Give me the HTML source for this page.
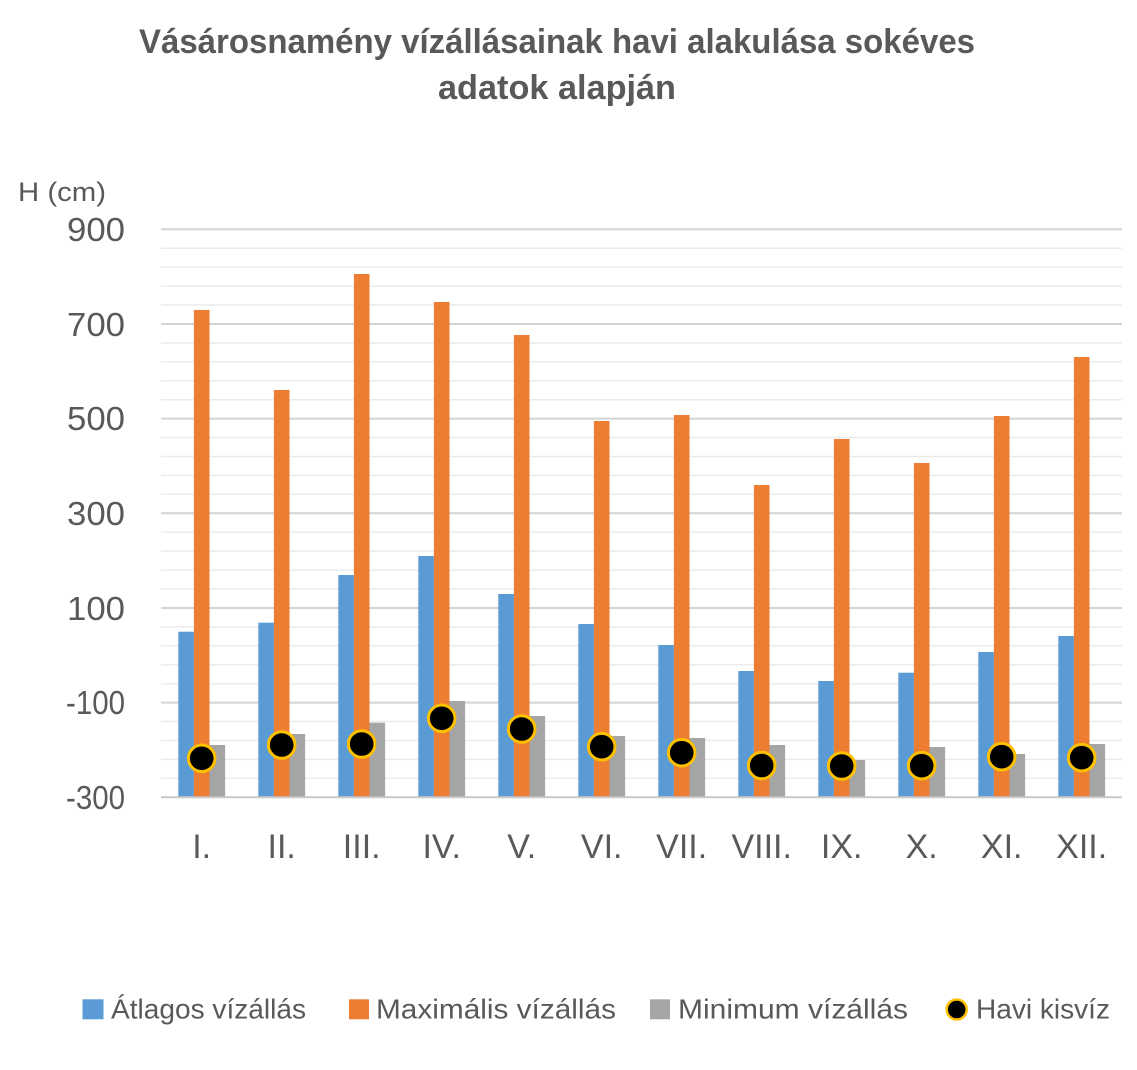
<!DOCTYPE html>
<html>
<head>
<meta charset="utf-8">
<style>
html,body{margin:0;padding:0;background:#fff;}
svg{display:block;}
text{font-family:"Liberation Sans",sans-serif;fill:#595959;}
</style>
</head>
<body>
<svg width="1137" height="1070" viewBox="0 0 1137 1070" xmlns="http://www.w3.org/2000/svg">
<rect width="1137" height="1070" fill="#fff"/>
<!-- Title -->
<text x="557" y="53" text-anchor="middle" font-size="34" font-weight="bold" textLength="836" lengthAdjust="spacingAndGlyphs">Vásárosnamény vízállásainak havi alakulása sokéves</text>
<text x="557" y="99" text-anchor="middle" font-size="34" font-weight="bold" textLength="238" lengthAdjust="spacingAndGlyphs">adatok alapján</text>
<!-- Axis title -->
<text x="18" y="201" font-size="27" textLength="88" lengthAdjust="spacingAndGlyphs">H (cm)</text>
<!-- Minor gridlines -->
<g stroke="#ebebeb" stroke-width="1.5">
<line x1="161" x2="1122" y1="248.2" y2="248.2"/>
<line x1="161" x2="1122" y1="267.1" y2="267.1"/>
<line x1="161" x2="1122" y1="286.1" y2="286.1"/>
<line x1="161" x2="1122" y1="305.0" y2="305.0"/>
<line x1="161" x2="1122" y1="342.9" y2="342.9"/>
<line x1="161" x2="1122" y1="361.8" y2="361.8"/>
<line x1="161" x2="1122" y1="380.7" y2="380.7"/>
<line x1="161" x2="1122" y1="399.7" y2="399.7"/>
<line x1="161" x2="1122" y1="437.5" y2="437.5"/>
<line x1="161" x2="1122" y1="456.5" y2="456.5"/>
<line x1="161" x2="1122" y1="475.4" y2="475.4"/>
<line x1="161" x2="1122" y1="494.3" y2="494.3"/>
<line x1="161" x2="1122" y1="532.2" y2="532.2"/>
<line x1="161" x2="1122" y1="551.1" y2="551.1"/>
<line x1="161" x2="1122" y1="570.1" y2="570.1"/>
<line x1="161" x2="1122" y1="589.0" y2="589.0"/>
<line x1="161" x2="1122" y1="626.9" y2="626.9"/>
<line x1="161" x2="1122" y1="645.8" y2="645.8"/>
<line x1="161" x2="1122" y1="664.7" y2="664.7"/>
<line x1="161" x2="1122" y1="683.7" y2="683.7"/>
<line x1="161" x2="1122" y1="721.5" y2="721.5"/>
<line x1="161" x2="1122" y1="740.5" y2="740.5"/>
<line x1="161" x2="1122" y1="759.4" y2="759.4"/>
<line x1="161" x2="1122" y1="778.3" y2="778.3"/>
</g>
<!-- Major gridlines -->
<g stroke="#d4d4d4" stroke-width="2">
<line x1="161" x2="1122" y1="229.3" y2="229.3"/>
<line x1="161" x2="1122" y1="324.0" y2="324.0"/>
<line x1="161" x2="1122" y1="418.6" y2="418.6"/>
<line x1="161" x2="1122" y1="513.3" y2="513.3"/>
<line x1="161" x2="1122" y1="608.0" y2="608.0"/>
<line x1="161" x2="1122" y1="702.6" y2="702.6"/>
</g>
<!-- Y labels -->
<g font-size="33">
<text x="67" y="241" textLength="58" lengthAdjust="spacingAndGlyphs">900</text>
<text x="67" y="336" textLength="58" lengthAdjust="spacingAndGlyphs">700</text>
<text x="67" y="430" textLength="58" lengthAdjust="spacingAndGlyphs">500</text>
<text x="67" y="525" textLength="58" lengthAdjust="spacingAndGlyphs">300</text>
<text x="67" y="620" textLength="58" lengthAdjust="spacingAndGlyphs">100</text>
<text x="66" y="714" textLength="59" lengthAdjust="spacingAndGlyphs">-100</text>
<text x="66" y="809" textLength="59" lengthAdjust="spacingAndGlyphs">-300</text>
</g>
<!-- Bars: blue -->
<g fill="#5B9BD5">
<rect x="178.3" width="15.6" y="631.7" height="165.6"/>
<rect x="258.3" width="15.6" y="622.7" height="174.6"/>
<rect x="338.3" width="15.6" y="575.0" height="222.3"/>
<rect x="418.3" width="15.6" y="556.0" height="241.3"/>
<rect x="498.3" width="15.6" y="594.0" height="203.3"/>
<rect x="578.3" width="15.6" y="624.0" height="173.3"/>
<rect x="658.3" width="15.6" y="645.0" height="152.3"/>
<rect x="738.3" width="15.6" y="671.0" height="126.3"/>
<rect x="818.3" width="15.6" y="681.0" height="116.3"/>
<rect x="898.3" width="15.6" y="672.7" height="124.6"/>
<rect x="978.3" width="15.6" y="652.0" height="145.3"/>
<rect x="1058.3" width="15.6" y="636.0" height="161.3"/>
</g>
<!-- Bars: orange -->
<g fill="#ED7D31">
<rect x="193.9" width="15.6" y="310" height="487.3"/>
<rect x="273.9" width="15.6" y="390" height="407.3"/>
<rect x="353.9" width="15.6" y="274" height="523.3"/>
<rect x="433.9" width="15.6" y="302" height="495.3"/>
<rect x="513.9" width="15.6" y="335" height="462.3"/>
<rect x="593.9" width="15.6" y="421" height="376.3"/>
<rect x="673.9" width="15.6" y="415" height="382.3"/>
<rect x="753.9" width="15.6" y="485" height="312.3"/>
<rect x="833.9" width="15.6" y="439" height="358.3"/>
<rect x="913.9" width="15.6" y="463" height="334.3"/>
<rect x="993.9" width="15.6" y="416" height="381.3"/>
<rect x="1073.9" width="15.6" y="357" height="440.3"/>
</g>
<!-- Bars: gray -->
<g fill="#A5A5A5">
<rect x="209.5" width="15.6" y="745.0" height="52.3"/>
<rect x="289.5" width="15.6" y="734.0" height="63.3"/>
<rect x="369.5" width="15.6" y="722.7" height="74.6"/>
<rect x="449.5" width="15.6" y="701.0" height="96.3"/>
<rect x="529.5" width="15.6" y="716.0" height="81.3"/>
<rect x="609.5" width="15.6" y="736.0" height="61.3"/>
<rect x="689.5" width="15.6" y="738.0" height="59.3"/>
<rect x="769.5" width="15.6" y="745.0" height="52.3"/>
<rect x="849.5" width="15.6" y="760.0" height="37.3"/>
<rect x="929.5" width="15.6" y="747.0" height="50.3"/>
<rect x="1009.5" width="15.6" y="754.0" height="43.3"/>
<rect x="1089.5" width="15.6" y="744.0" height="53.3"/>
</g>
<!-- Axis line -->
<line x1="161" x2="1122" y1="797.3" y2="797.3" stroke="#c8c8c8" stroke-width="2"/>
<!-- Dots -->
<g fill="#000" stroke="#FFC000" stroke-width="3">
<circle cx="201.7" cy="758.3" r="13.3"/>
<circle cx="281.7" cy="745.0" r="13.3"/>
<circle cx="361.7" cy="744.0" r="13.3"/>
<circle cx="441.7" cy="718.3" r="13.3"/>
<circle cx="521.7" cy="729.0" r="13.3"/>
<circle cx="601.7" cy="746.7" r="13.3"/>
<circle cx="681.7" cy="752.7" r="13.3"/>
<circle cx="761.7" cy="765.5" r="13.3"/>
<circle cx="841.7" cy="766.0" r="13.3"/>
<circle cx="921.7" cy="765.7" r="13.3"/>
<circle cx="1001.7" cy="756.7" r="13.3"/>
<circle cx="1081.7" cy="757.7" r="13.3"/>
</g>
<!-- X labels -->
<g font-size="34" text-anchor="middle">
<text x="201.7" y="858">I.</text>
<text x="281.7" y="858">II.</text>
<text x="361.7" y="858">III.</text>
<text x="441.7" y="858">IV.</text>
<text x="521.7" y="858">V.</text>
<text x="601.7" y="858">VI.</text>
<text x="681.7" y="858">VII.</text>
<text x="761.7" y="858">VIII.</text>
<text x="841.7" y="858">IX.</text>
<text x="921.7" y="858">X.</text>
<text x="1001.7" y="858">XI.</text>
<text x="1081.7" y="858">XII.</text>
</g>
<!-- Legend -->
<rect x="82.5" y="999.3" width="21" height="20" fill="#5B9BD5"/>
<text x="111" y="1018.5" font-size="28" textLength="195" lengthAdjust="spacingAndGlyphs">Átlagos vízállás</text>
<rect x="349" y="999.3" width="20" height="20" fill="#ED7D31"/>
<text x="376" y="1018.5" font-size="28" textLength="240" lengthAdjust="spacingAndGlyphs">Maximális vízállás</text>
<rect x="650" y="999.3" width="20" height="20" fill="#A5A5A5"/>
<text x="678" y="1018.5" font-size="28" textLength="230" lengthAdjust="spacingAndGlyphs">Minimum vízállás</text>
<circle cx="956.7" cy="1009.5" r="10" fill="#000" stroke="#FFC000" stroke-width="2.5"/>
<text x="976" y="1018.5" font-size="28" textLength="134" lengthAdjust="spacingAndGlyphs">Havi kisvíz</text>
</svg>
</body>
</html>
